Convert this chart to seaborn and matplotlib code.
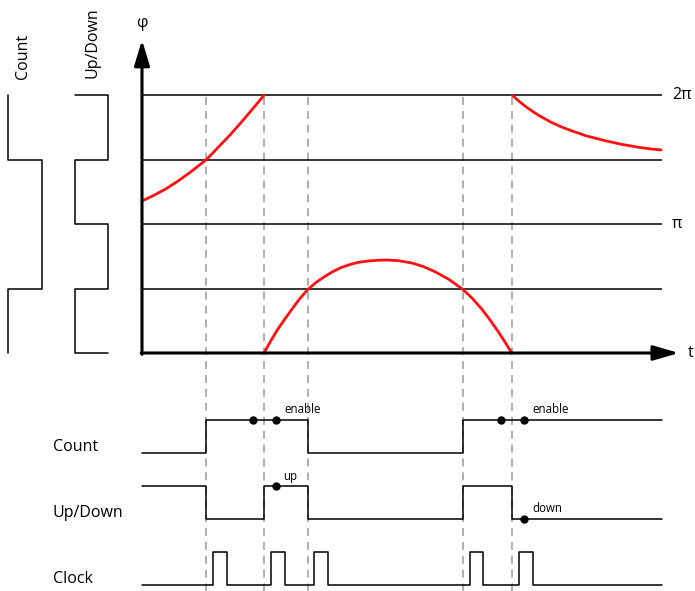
import matplotlib
matplotlib.use("Agg")
import matplotlib.pyplot as plt
import seaborn as sns
import numpy as np

sns.set_style("white")
plt.rcParams['font.family'] = ['Open Sans', 'DejaVu Sans']
plt.rcParams['text.color'] = 'black'

# ---------------- data (t in arbitrary time units, phase in units of pi) -------------
event_t = [6.4, 12.2, 16.6, 32.1, 37.0]          # dashed marker times
t_end = 52.0
phase_levels = [0.0, 0.5, 1.0, 1.5, 2.0]
phase_labels = {2.0: "2π", 1.0: "π"}

curve1_t = [0.0, 1.2, 2.4, 3.6, 4.8, 6.43, 7.6, 8.8, 10.0, 11.2, 12.2]
curve1_p = [1.178, 1.223, 1.273, 1.333, 1.400, 1.498, 1.593, 1.690, 1.795, 1.905, 1.998]
curve2_t = [12.2, 12.9, 13.6, 14.3, 14.93, 15.7, 16.6, 17.4, 18.27, 19.1, 19.93,
            20.8, 21.6, 22.6, 23.6, 24.5, 25.6, 26.97, 28.1, 29.3, 30.7, 32.07,
            33.0, 33.97, 34.8, 35.63, 36.3, 36.97]
curve2_p = [0.0, 0.097, 0.187, 0.265, 0.333, 0.414, 0.494, 0.547, 0.593, 0.632, 0.663,
            0.686, 0.702, 0.713, 0.719, 0.721, 0.716, 0.698, 0.671, 0.630, 0.570, 0.494,
            0.426, 0.341, 0.256, 0.165, 0.085, 0.0]
curve3_t = [37.03, 37.83, 38.63, 39.63, 40.83, 41.83, 42.97, 44.53, 46.3, 47.93,
            49.63, 50.83, 51.9]
curve3_p = [1.998, 1.943, 1.895, 1.844, 1.792, 1.756, 1.722, 1.681, 1.646, 1.618,
            1.595, 1.582, 1.574]

# left-hand quadrant signals (state per phase band, 0 = left, 1 = right)
count_bands = [0.0, 0.5, 1.5, 2.0]
count_states = [0, 1, 0]
updown_bands = [0.0, 0.0, 0.5, 1.0, 1.5, 2.0, 2.0]
updown_states = [1, 0, 1, 0, 1, 0]
count_x = (-13.45, -10.0)
updown_x = (-6.7, -3.4)

# timing diagram (transition times, level after transition)
count_sig_t = [0.0, 6.4, 16.6, 32.1]
count_sig_v = [0, 1, 0, 1]
updown_sig_t = [0.0, 6.4, 12.2, 16.6, 32.1, 37.0]
updown_sig_v = [1, 0, 1, 0, 1, 0]
clock_sig_t = [0.0, 7.07, 8.47, 12.87, 14.3, 17.23, 18.63, 32.8, 34.13, 37.7, 39.07]
clock_sig_v = [0, 1, 0, 1, 0, 1, 0, 1, 0, 1, 0]
row_names = ["Count", "Up/Down", "Clock"]
row_base = [2.0, 1.0, 0.0]
amp = 0.5

enable_dots_t = [11.13, 13.4, 35.87, 38.2]
updown_dots = [(13.4, 1), (38.2, 0)]
enable_text_t = [14.2, 39.0]
updown_text = [(14.1, 1.64, "up"), (39.0, 1.16, "down")]

# ---------------- figure ---------------------------------------------------------------
W, H = 695, 591
fig = plt.figure(figsize=(W / 100, H / 100), dpi=100)
XL = (-14.2, 55.3)
ax = fig.add_axes([0, 231 / H, 1, 360 / H])
ax.set_xlim(*XL)
ax.set_ylim(-7 / 129, 353 / 129)
ax.axis('off')
axt = fig.add_axes([0, 0, 1, 231 / H])
axt.set_xlim(*XL)
axt.set_ylim(-6 / 66, 225 / 66)
axt.axis('off')

# horizontal phase lines
for p in phase_levels[1:]:
    ax.plot([0, t_end], [p, p], color='black', lw=1.1, solid_capstyle='butt')
for p, lab in phase_labels.items():
    ax.text(53.0, p, lab, ha='left', va='center', fontsize=11.5)

# dashed event lines spanning both panels
for t in event_t:
    ax.plot([t, t], [1.985, -1.85], color='#999999', lw=1.1,
            linestyle=(0, (5.2, 3.9)), clip_on=False, zorder=1)

# axes arrows
ax.annotate('', xy=(0, 2.426), xytext=(0, -0.01),
            arrowprops=dict(arrowstyle='-|>,head_length=15.5,head_width=4.7',
                            mutation_scale=1, lw=2.2, color='black',
                            shrinkA=0, shrinkB=0), zorder=5)
ax.annotate('', xy=(53.7, 0), xytext=(-0.08, 0),
            arrowprops=dict(arrowstyle='-|>,head_length=15.5,head_width=4.5',
                            mutation_scale=1, lw=2.2, color='black',
                            shrinkA=0, shrinkB=0), zorder=5)
ax.text(0, 2.56, "φ", ha='center', va='center', fontsize=11.5)
ax.text(54.6, 0, "t", ha='left', va='center', fontsize=11.5)

# red phase curves
for ct, cp in [(curve1_t, curve1_p), (curve2_t, curve2_p), (curve3_t, curve3_p)]:
    sns.lineplot(x=ct, y=cp, ax=ax, color='#ff1111', lw=2.0, sort=False,
                 estimator=None, zorder=4, legend=False,
                 solid_joinstyle='round', solid_capstyle='round')


def vertical_wave(bands, states, xs):
    px, py = [], []
    for i, s in enumerate(states):
        px += [xs[s], xs[s]]
        py += [bands[i], bands[i + 1]]
    return px, py


for bands, states, xs in [(count_bands, count_states, count_x),
                          (updown_bands, updown_states, updown_x)]:
    px, py = vertical_wave(bands, states, xs)
    ax.plot(px, py, color='black', lw=1.1)

ax.text(np.mean(count_x) - 0.2, 2.297, "Count", rotation=90, ha='center',
        va='center', fontsize=11.5)
ax.text(np.mean(updown_x) + 0.1, 2.405, "Up/Down", rotation=90, ha='center',
        va='center', fontsize=11.5)


# timing diagram
def steps(ts, vs, end):
    px, py = [], []
    for i, (t, v) in enumerate(zip(ts, vs)):
        nxt = ts[i + 1] if i + 1 < len(ts) else end
        px += [t, nxt]
        py += [v, v]
    return px, py


for name, base, ts, vs in zip(row_names, row_base,
                              [count_sig_t, updown_sig_t, clock_sig_t],
                              [count_sig_v, updown_sig_v, clock_sig_v]):
    px, py = steps(ts, vs, t_end)
    py = [base + amp * v for v in py]
    sns.lineplot(x=px, y=py, ax=axt, color='black', lw=1.1, sort=False,
                 estimator=None, legend=False, zorder=3)
    axt.text(-8.9, base + 0.09, name, ha='left', va='center', fontsize=11.5)

axt.plot(enable_dots_t, [row_base[0] + amp] * len(enable_dots_t), 'o',
         color='black', ms=5, zorder=4)
for tt in enable_text_t:
    axt.text(tt, 2.66, "enable", ha='left', va='center', fontsize=8.3)
for tt, v in updown_dots:
    axt.plot([tt], [row_base[1] + amp * v], 'o', color='black', ms=5, zorder=4)
for tt, y, lab in updown_text:
    axt.text(tt, y, lab, ha='left', va='center', fontsize=8.3)

fig.savefig("out.png", dpi=100)
